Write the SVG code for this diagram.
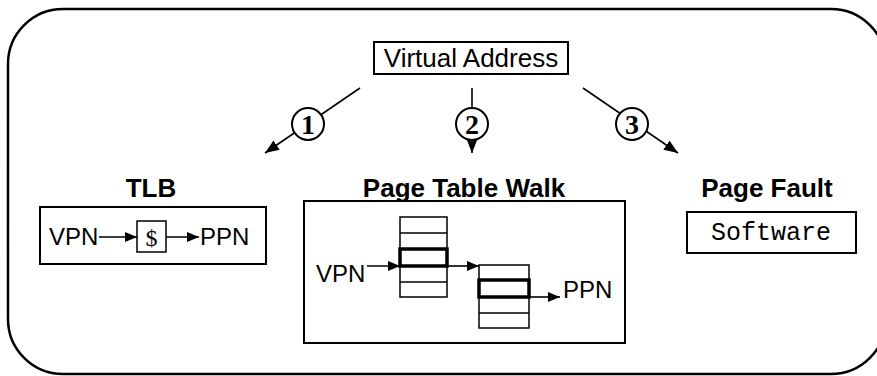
<svg xmlns="http://www.w3.org/2000/svg" width="877" height="376" viewBox="0 0 877 376">
<style>
.box{fill:#fff;stroke:#000;stroke-width:2}
.thin{fill:#fff;stroke:#000;stroke-width:1.5}
.circ{fill:#fff;stroke:#000;stroke-width:2}
.thick{fill:none;stroke:#000;stroke-width:3.5}
.ln{stroke:#000;stroke-width:1.6;fill:none}
.t{font-family:"Liberation Sans",Arial,sans-serif;font-size:24px;fill:#000}
.h{font-family:"Liberation Sans",Arial,sans-serif;font-size:26px;font-weight:bold;fill:#000;text-anchor:middle}
.num{font-family:"Liberation Serif","Times New Roman",serif;font-size:28px;font-weight:bold;fill:#000;text-anchor:middle}
.mono{font-family:"Liberation Mono","Courier New",monospace;font-size:25px;fill:#000;text-anchor:middle}
</style>
<defs>
<marker id="ah" viewBox="0 0 14 11" refX="14" refY="5.5" markerWidth="14" markerHeight="11" markerUnits="userSpaceOnUse" orient="auto">
<path d="M0,0 L14,5.5 L0,11 Z" fill="#000"/>
</marker>
<marker id="ahs" viewBox="0 0 12 10" refX="12" refY="5" markerWidth="12" markerHeight="10" markerUnits="userSpaceOnUse" orient="auto">
<path d="M0,0 L12,5 L0,10 Z" fill="#000"/>
</marker>
</defs>
<rect x="8" y="9" width="878" height="365" rx="55" ry="55" fill="none" stroke="#000" stroke-width="2.5"/>
<g id="virtual-address">
<rect class="box" x="374" y="42" width="194" height="32"/>
<text class="t" x="471" y="67" text-anchor="middle" style="font-size:26px">Virtual Address</text>
</g>
<g id="connectors">
<line class="ln" x1="360" y1="88" x2="265" y2="153" marker-end="url(#ah)"/>
<line class="ln" x1="472" y1="88" x2="472" y2="153" marker-end="url(#ah)"/>
<line class="ln" x1="583" y1="88" x2="678" y2="153" marker-end="url(#ah)"/>
<circle class="circ" cx="308" cy="124" r="16"/>
<text class="num" x="308" y="134">1</text>
<circle class="circ" cx="472" cy="124" r="16"/>
<text class="num" x="472" y="134">2</text>
<circle class="circ" cx="632" cy="124" r="16"/>
<text class="num" x="632" y="134">3</text>
</g>
<g id="tlb">
<text class="h" x="151" y="197">TLB</text>
<rect class="box" x="40" y="207" width="226" height="57"/>
<text class="t" x="49" y="245">VPN</text>
<line class="ln" x1="99" y1="237" x2="137" y2="237" marker-end="url(#ahs)"/>
<rect class="thin" x="137" y="221" width="29" height="31"/>
<text x="151.5" y="246" text-anchor="middle" style="font-family:'Liberation Serif','Times New Roman',serif;font-size:24px">$</text>
<line class="ln" x1="166" y1="237" x2="199" y2="237" marker-end="url(#ahs)"/>
<text class="t" x="200" y="245">PPN</text>
</g>
<g id="page-table-walk">
<text class="h" x="464" y="197">Page Table Walk</text>
<rect class="box" x="304" y="201" width="321" height="142"/>
<text class="t" x="316" y="282">VPN</text>
<line class="ln" x1="367" y1="266" x2="400" y2="266" marker-end="url(#ahs)"/>
<rect class="thin" x="400" y="217" width="47" height="80"/>
<line class="ln" x1="400" y1="233" x2="447" y2="233"/>
<line class="ln" x1="400" y1="282" x2="447" y2="282"/>
<rect class="thick" x="400" y="249" width="47" height="17"/>
<line class="ln" x1="447" y1="266" x2="479" y2="266" marker-end="url(#ahs)"/>
<rect class="thin" x="479" y="265" width="50" height="63"/>
<line class="ln" x1="479" y1="313" x2="529" y2="313"/>
<rect class="thick" x="479" y="280" width="50" height="17"/>
<line class="ln" x1="529" y1="297" x2="560" y2="297" marker-end="url(#ahs)"/>
<text class="t" x="563" y="298">PPN</text>
</g>
<g id="page-fault">
<text class="h" x="767" y="197">Page Fault</text>
<rect class="box" x="687" y="212" width="169" height="41"/>
<text class="mono" x="771" y="240">Software</text>
</g>
</svg>
